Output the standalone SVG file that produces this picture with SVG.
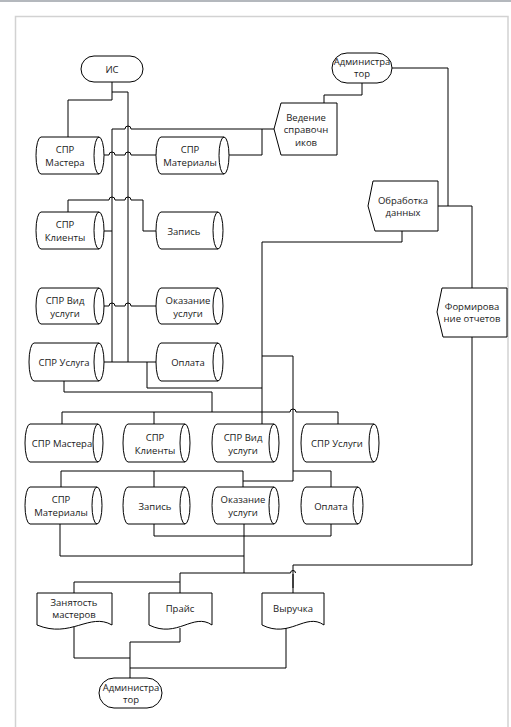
<svg xmlns="http://www.w3.org/2000/svg" width="511" height="727" viewBox="0 0 511 727">
<style>
.s{fill:#fff;stroke:#000;stroke-width:1}
.c{fill:none;stroke:#000;stroke-width:1}
.t{font-family:"Open Sans","Noto Sans","DejaVu Sans",sans-serif;font-size:9.5px;fill:#1a1a1a;text-anchor:middle}
</style>
<rect x="0" y="0" width="511" height="727" fill="#fff"/>
<rect x="0" y="0" width="511" height="2" fill="#b4b8bd"/>
<path d="M15.5,727 V16.5 H508 V727" fill="none" stroke="#d2d2d2" stroke-width="1.5"/>
<g id="connectors">
<path class="c" d="M112,82 V100 H68 V137"/>
<path class="c" d="M112,92 H128 V362"/>
<path class="c" d="M112,129 V362" stroke-width="2"/>
<path class="c" d="M112,129 H125 a3,3 0 0 1 6,0 H274"/>
<path class="c" d="M104,155 H109 a3,3 0 0 1 6,0 H125 a3,3 0 0 1 6,0 H156"/>
<path class="c" d="M229,155 H262 V129"/>
<path class="c" d="M68,212 V200 H109 a3,3 0 0 1 6,0 H125 a3,3 0 0 1 6,0 H143 V231 H156"/>
<path class="c" d="M104,231 H112"/>
<path class="c" d="M104,306 H109 a3,3 0 0 1 6,0 H125 a3,3 0 0 1 6,0 H156"/>
<path class="c" d="M104,362 H156"/>
<path class="c" d="M147,362 V388 H262"/>
<path class="c" d="M64,381 V392 H212 V412"/>
<path class="c" d="M62,424 V412 H290 a3,3 0 0 1 6,0 H338 V424"/>
<path class="c" d="M154,412 V424"/>
<path class="c" d="M402,231 V242 H262 V424"/>
<path class="c" d="M262,356 H293 V481 H243"/>
<path class="c" d="M61,487 V471 H243 V487"/>
<path class="c" d="M154,471 V487"/>
<path class="c" d="M293,471 H331 V487"/>
<path class="c" d="M154,524 V536 H331 V524"/>
<path class="c" d="M244,524 V573"/>
<path class="c" d="M60,524 V556 H244"/>
<path class="c" d="M180,593 V573 H290.5 a2.5,2.5 0 0 1 5,0"/>
<path class="c" d="M74,593 V582 H180"/>
<path class="c" d="M293,593 V565 H472 V337"/>
<path class="c" d="M293,574 V588" stroke-width="2"/>
<path class="c" d="M472,288 V206 H438"/>
<path class="c" d="M392,68 H448 V206"/>
<path class="c" d="M362,83 V95 H324 V103"/>
<path class="c" d="M74,625 V658 H130"/>
<path class="c" d="M180,628 V642 H130 V678"/>
<path class="c" d="M286,628 V668 H130"/>
</g>
<g id="n-is"><rect class="s" x="81" y="56" width="62" height="26" rx="13"/><text class="t" x="112" y="72.5">ИС</text></g>
<g id="n-admin1"><rect class="s" x="332" y="53" width="60" height="30" rx="15"/><text class="t" x="362" y="64.5">Администра</text><text class="t" x="362" y="77">тор</text></g>
<g id="n-vedenie"><path class="s" d="M281,103 H337 V155 H281 L274,129 Z"/><text class="t" x="306" y="120.5">Ведение</text><text class="t" x="306" y="133">справочн</text><text class="t" x="306" y="145.5">иков</text></g>
<g id="n-spr-mastera"><path class="s" d="M41,137 H99 A5,18.5 0 0 1 99,174 H41 A5,18.5 0 0 1 41,137 Z M99,137 A5,18.5 0 0 0 99,174"/><text class="t" x="65" y="152.5">СПР</text><text class="t" x="65" y="166">Мастера</text></g>
<g id="n-spr-materialy"><path class="s" d="M161,137 H224 A5,18.5 0 0 1 224,174 H161 A5,18.5 0 0 1 161,137 Z M224,137 A5,18.5 0 0 0 224,174"/><text class="t" x="190" y="152.5">СПР</text><text class="t" x="190" y="166">Материалы</text></g>
<g id="n-spr-klienty"><path class="s" d="M41,212 H99 A5,18.5 0 0 1 99,249 H41 A5,18.5 0 0 1 41,212 Z M99,212 A5,18.5 0 0 0 99,249"/><text class="t" x="65" y="227.5">СПР</text><text class="t" x="65" y="240.5">Клиенты</text></g>
<g id="n-zapis"><path class="s" d="M161,212 H218 A5,18.5 0 0 1 218,249 H161 A5,18.5 0 0 1 161,212 Z M218,212 A5,18.5 0 0 0 218,249"/><text class="t" x="184" y="234.5">Запись</text></g>
<g id="n-spr-vid"><path class="s" d="M41,288 H99 A5,18 0 0 1 99,324 H41 A5,18 0 0 1 41,288 Z M99,288 A5,18 0 0 0 99,324"/><text class="t" x="65" y="303.5">СПР Вид</text><text class="t" x="65" y="316.5">услуги</text></g>
<g id="n-okazanie"><path class="s" d="M161,288 H218 A5,18 0 0 1 218,324 H161 A5,18 0 0 1 161,288 Z M218,288 A5,18 0 0 0 218,324"/><text class="t" x="188" y="303.5">Оказание</text><text class="t" x="188" y="316.5">услуги</text></g>
<g id="n-spr-usluga"><path class="s" d="M34,343 H99 A5,19 0 0 1 99,381 H34 A5,19 0 0 1 34,343 Z M99,343 A5,19 0 0 0 99,381"/><text class="t" x="64" y="365.5">СПР Услуга</text></g>
<g id="n-oplata"><path class="s" d="M161,343 H218 A5,19 0 0 1 218,381 H161 A5,19 0 0 1 161,343 Z M218,343 A5,19 0 0 0 218,381"/><text class="t" x="188" y="365.5">Оплата</text></g>
<g id="n-obrabotka"><path class="s" d="M373,181 H438 V231 H375 L368,206 Z"/><text class="t" x="403" y="203.5">Обработка</text><text class="t" x="403" y="215.5">данных</text></g>
<g id="n-formirovanie"><path class="s" d="M442,288 H507 V337 H443 L437,312 Z"/><text class="t" x="472" y="309.5">Формирова</text><text class="t" x="472" y="321.5">ние отчетов</text></g>
<g id="n-spr-mastera2"><path class="s" d="M30,424 H98 A5,19 0 0 1 98,462 H30 A5,19 0 0 1 30,424 Z M98,424 A5,19 0 0 0 98,462"/><text class="t" x="62" y="446.5">СПР Мастера</text></g>
<g id="n-spr-klienty2"><path class="s" d="M128,424 H185 A5,19 0 0 1 185,462 H128 A5,19 0 0 1 128,424 Z M185,424 A5,19 0 0 0 185,462"/><text class="t" x="155" y="440.5">СПР</text><text class="t" x="155" y="453.5">Клиенты</text></g>
<g id="n-spr-vid2"><path class="s" d="M217,424 H274 A5,19 0 0 1 274,462 H217 A5,19 0 0 1 217,424 Z M274,424 A5,19 0 0 0 274,462"/><text class="t" x="243" y="440.5">СПР Вид</text><text class="t" x="243" y="453.5">услуги</text></g>
<g id="n-spr-uslugi2"><path class="s" d="M306,424 H374 A5,19 0 0 1 374,462 H306 A5,19 0 0 1 306,424 Z M374,424 A5,19 0 0 0 374,462"/><text class="t" x="337" y="446.5">СПР Услуги</text></g>
<g id="n-spr-materialy2"><path class="s" d="M30,487 H97 A5,18.5 0 0 1 97,524 H30 A5,18.5 0 0 1 30,487 Z M97,487 A5,18.5 0 0 0 97,524"/><text class="t" x="61" y="502.5">СПР</text><text class="t" x="61" y="515.5">Материалы</text></g>
<g id="n-zapis2"><path class="s" d="M128,487 H185 A5,18.5 0 0 1 185,524 H128 A5,18.5 0 0 1 128,487 Z M185,487 A5,18.5 0 0 0 185,524"/><text class="t" x="155" y="509.5">Запись</text></g>
<g id="n-okazanie2"><path class="s" d="M217,487 H274 A5,18.5 0 0 1 274,524 H217 A5,18.5 0 0 1 217,487 Z M274,487 A5,18.5 0 0 0 274,524"/><text class="t" x="243" y="502.5">Оказание</text><text class="t" x="243" y="515.5">услуги</text></g>
<g id="n-oplata2"><path class="s" d="M306,487 H358 A5,18.5 0 0 1 358,524 H306 A5,18.5 0 0 1 306,487 Z M358,487 A5,18.5 0 0 0 358,524"/><text class="t" x="331" y="509.5">Оплата</text></g>
<g id="n-zanyatost"><path class="s" d="M37,593 H112 V625 C89.5,612 70.75,639 37,625 Z"/><text class="t" x="74" y="605.5">Занятость</text><text class="t" x="74" y="617.5">мастеров</text></g>
<g id="n-prais"><path class="s" d="M149,593 H212 V625 C193.1,612 177.35,639 149,625 Z"/><text class="t" x="180" y="611.5">Прайс</text></g>
<g id="n-vyruchka"><path class="s" d="M262,593 H324 V625 C305.4,612 289.9,639 262,625 Z"/><text class="t" x="293" y="611.5">Выручка</text></g>
<g id="n-admin2"><rect class="s" x="99" y="678" width="63" height="30" rx="15"/><text class="t" x="131" y="690.5">Администра</text><text class="t" x="131" y="703">тор</text></g>
</svg>
